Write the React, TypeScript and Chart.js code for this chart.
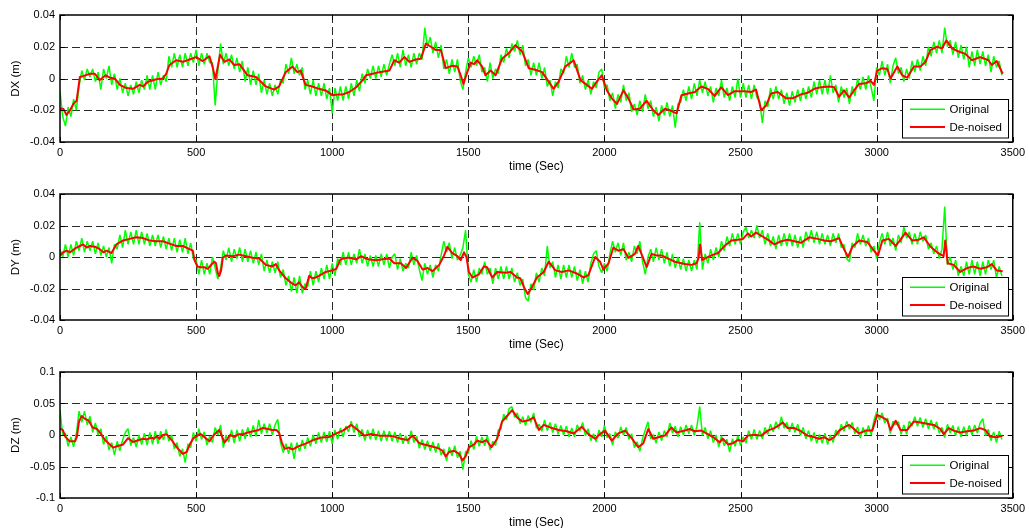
import React, { useEffect, useRef } from "react";
import { Chart, registerables } from "chart.js";

Chart.register(...registerables);

// ---------- data (values in millimetres, plotted in metres) ----------
const X_TICKS = [0, 500, 1000, 1500, 2000, 2500, 3000, 3500];
const DXY_Y_TICKS = [-0.04, -0.02, 0, 0.02, 0.04];
const DZ_Y_TICKS = [-0.1, -0.05, 0, 0.05, 0.1];
const ORIGINAL_STEP_SEC = 10; // original samples read every 10 s, starting at t = 0
const SERIES_NAMES = ["Original", "De-noised"];
const X_TITLE = "time (Sec)";

const DX_ORIGINAL_MM = [
  -8, -24, -30, -18, -24, -13, -20, -5, 5, -1,
  6, 1, 6, -2, 4, -7, 6, 0, 8, -4,
  3, -7, 0, -9, -3, -11, -4, -10, -2, -9,
  -1, -7, 2, -7, 2, -7, 4, -4, 2, -2,
  14, 7, 16, 7, 15, 7, 16, 8, 16, 10,
  18, 8, 16, 9, 16, 10, 10, -17, 5, 22,
  9, 16, 8, 15, 6, 13, 4, 11, -2, 7,
  -4, 5, -4, 3, -9, -1, -10, -3, -11, -4,
  -10, -1, -3, 9, 3, 13, 3, 9, 2, 7,
  -7, -1, -10, -1, -11, -3, -11, -3, -13, -6,
  -22, -6, -14, -5, -14, -5, -13, -3, -11, -1,
  -8, 3, -3, 6, 0, 8, 0, 8, 1, 9,
  2, 9, 15, 8, 16, 7, 18, 8, 15, 7,
  16, 9, 16, 12, 32, 20, 26, 16, 23, 13,
  21, 6, 12, 3, 12, 4, 12, -1, -7, 4,
  13, 7, 14, 8, 15, 4, 7, -2, 10, 0,
  6, 3, 15, 10, 19, 13, 22, 17, 24, 15,
  21, 8, 12, 2, 10, 2, 10, 0, 7, -5,
  -1, -11, -2, -6, 6, 3, 14, 7, 16, 7,
  9, -3, 2, -7, -1, -10, -2, -6, 4, 6,
  -6, -4, -14, -9, -19, -10, -15, -4, -14, -9,
  -21, -16, -23, -14, -21, -10, -19, -14, -24, -18,
  -27, -17, -23, -15, -24, -17, -31, -16, -15, -7,
  -14, -5, -13, -3, -11, -1, -9, -2, -11, -5,
  -15, -6, -11, -1, -12, -6, -14, -5, -12, 0,
  -12, -3, -12, -4, -13, -4, -12, -14, -28, -14,
  -18, -6, -13, -5, -13, -7, -16, -9, -17, -8,
  -15, -7, -14, -6, -13, -5, -12, -2, -10, -1,
  -10, -1, -10, 2, -9, -4, -15, -5, -12, -6,
  -16, -5, -11, 0, -7, 1, -7, 2, -6, -14,
  7, 2, 11, 2, 9, -3, 8, 13, 3, 7,
  -2, 6, 0, 11, 4, 12, 5, 14, 8, 20,
  14, 23, 16, 24, 16, 32, 20, 24, 15, 23,
  13, 21, 12, 20, 7, 17, 8, 18, 9, 17,
  8, 15, 4, 14, 7, 11, 2,
];

const DX_DENOISED_MM: [number, number][] = [
  [0, -19], [12, -19], [24, -23], [37, -20], [49, -16], [61, -14], [73, 1], [85, 1.5], [110, 3], [128, 3],
  [146, -1], [168, 2], [183, 0.5], [201, 0], [220, -4], [244, -6], [268, -6.5], [293, -4], [305, -5], [323, -2],
  [354, -0.5], [378, 0], [390, 3], [402, 8.5], [427, 11.5], [451, 10.5], [476, 12], [500, 13.5], [524, 11], [549, 14],
  [561, 7], [571, -0.5], [579, 7], [588, 15], [604, 10.5], [622, 12], [640, 8.5], [659, 9], [689, 2], [720, 1],
  [756, -5], [787, -7], [805, -5], [829, 4], [854, 7.5], [872, 4], [884, 5], [902, -4], [927, -5], [951, -6.5],
  [976, -7.5], [1000, -10.5], [1024, -10], [1039, -10], [1063, -8.5], [1088, -5.5], [1112, -1], [1124, 2], [1149, 3], [1173, 4],
  [1210, 5], [1228, 11.5], [1246, 10], [1265, 13.5], [1283, 10.5], [1307, 12], [1326, 12.5], [1344, 22], [1362, 20], [1380, 18],
  [1399, 18], [1417, 6.5], [1441, 8], [1460, 7.5], [1472, 2], [1482, -3.5], [1496, 4], [1509, 10], [1521, 9], [1533, 11.5],
  [1551, 7.5], [1563, 2], [1582, 5], [1600, 2], [1624, 12.5], [1649, 16], [1673, 21], [1698, 17], [1722, 6.5], [1746, 5.5],
  [1771, 4], [1795, -2], [1813, -6.5], [1832, -2], [1856, 7.5], [1887, 11.5], [1912, -1], [1935, -4], [1954, -6.5], [1972, -2],
  [1990, 2], [2009, -7.5], [2027, -12.5], [2046, -16], [2070, -7.5], [2088, -12.5], [2107, -19.5], [2130, -19], [2155, -14], [2179, -20],
  [2198, -23], [2222, -19], [2240, -20], [2265, -22], [2283, -10.5], [2307, -9.5], [2332, -8.5], [2356, -5], [2380, -6.5], [2405, -11],
  [2429, -5.5], [2454, -10.5], [2478, -8], [2515, -8], [2539, -8.5], [2557, -7], [2576, -20], [2594, -17], [2612, -9.5], [2637, -8.5],
  [2667, -12.5], [2691, -12.5], [2722, -10], [2746, -9], [2771, -6.5], [2795, -5.5], [2826, -5], [2844, -5.5], [2862, -11.5], [2880, -7.5],
  [2899, -12], [2917, -7.5], [2935, -3.5], [2960, -3], [2978, -1.5], [2990, -4], [3002, 5], [3021, 6.5], [3039, 6], [3051, 0],
  [3076, 7.5], [3094, 2], [3112, 0.5], [3137, 7.5], [3161, 7.5], [3179, 10.5], [3198, 18], [3222, 20], [3240, 19], [3256, 24],
  [3277, 19], [3301, 17], [3326, 15.5], [3350, 11.5], [3380, 13.5], [3411, 11.5], [3423, 8.5], [3441, 11], [3463, 3],
];

const DY_ORIGINAL_MM = [
  5, 0, 8, 0, 8, 1, 10, 4, 12, 3,
  10, 4, 10, 2, 9, 1, 7, 0, 6, -4,
  8, 5, 14, 6, 17, 8, 16, 8, 17, 8,
  16, 8, 15, 7, 14, 7, 14, 6, 13, 5,
  12, 4, 12, 3, 11, 3, 12, 2, 9, -1,
  -2, -11, -2, -11, -4, -11, 0, -7, -14, -7,
  4, -2, 6, -3, 5, -1, 6, -3, 5, -3,
  4, -4, 3, -5, 2, -9, -2, -10, -3, -10,
  -3, -13, -8, -18, -12, -22, -13, -23, -12, -23,
  -17, -19, -9, -18, -9, -16, -7, -14, -5, -14,
  -4, -12, -1, -5, 3, -5, 3, -5, 2, -4,
  5, -4, 2, -6, 1, -6, 1, -6, 2, -5,
  2, -7, 0, 2, -8, -1, -9, -4, -7, 3,
  -5, 1, -8, -15, -4, -11, -5, -13, -5, -9,
  1, 10, 3, 9, -1, 6, -2, 1, 6, 17,
  -11, -16, -8, -16, -7, -11, -3, -11, -7, -17,
  -7, -14, -6, -14, -6, -14, -7, -16, -10, -18,
  -14, -26, -28, -17, -21, -10, -16, -7, -12, 7,
  -7, -3, -13, -5, -14, -5, -13, -5, -13, -6,
  -15, -8, -17, -9, -16, -4, 2, 4, -6, -10,
  -4, -9, 2, 10, 3, 9, 1, 9, -2, 3,
  -3, 7, 2, 10, -3, -11, 0, 5, -3, 6,
  -2, 5, -4, 3, -6, 2, -7, 0, -8, -1,
  -9, -2, -9, -2, -8, 22, -8, 2, -4, 5,
  -2, 6, 0, 10, 4, 13, 7, 15, 8, 15,
  8, 16, 19, 12, 17, 12, 20, 12, 17, 8,
  15, 7, 13, 5, 14, 7, 15, 7, 15, 7,
  14, 6, 13, 6, 16, 10, 17, 9, 16, 8,
  15, 8, 14, 7, 15, 9, 15, 6, 8, -1,
  -3, 9, 6, 15, 8, 14, 7, 12, 3, 7,
  -1, 9, 15, 8, 16, 7, 12, 4, 14, 9,
  19, 12, 16, 8, 15, 8, 16, 10, 14, 5,
  9, 2, 7, -1, 5, 32, -5, 0, -8, -2,
  -12, -6, -12, -3, -11, -2, -11, -3, -12, -3,
  -11, -2, -8, -2, -13, -6, -12,
];

const DY_DENOISED_MM: [number, number][] = [
  [0, 1], [12, 3], [24, 4], [37, 3], [49, 4.5], [61, 6], [73, 7], [85, 8], [98, 6], [110, 7],
  [128, 6.5], [146, 5], [159, 3], [171, 4], [189, 2.5], [207, 8], [232, 10.5], [256, 11.5], [280, 12.5], [305, 12],
  [329, 10.5], [354, 10], [378, 10], [402, 8.5], [427, 7], [451, 7], [476, 5], [488, 4], [494, -2], [505, -6],
  [517, -6.5], [530, -6.5], [543, -7.5], [555, -5], [567, -3], [573, -4], [580, -10.5], [585, -12], [592, -8.5], [598, -0.5],
  [610, 1], [634, 0.5], [659, 1.5], [683, 0.5], [707, -0.5], [732, -1], [756, -5], [780, -6], [793, -4.5], [805, -8.5],
  [829, -13.5], [854, -17], [866, -18], [878, -16], [890, -19], [902, -20.5], [915, -12], [927, -13.5], [939, -13], [951, -12],
  [976, -9.5], [1000, -8.5], [1015, -7.5], [1030, -1.5], [1055, -0.5], [1063, -0.5], [1088, -1.5], [1106, 0.5], [1130, -1.5], [1161, -2],
  [1185, -1.5], [1210, -1], [1228, -4], [1252, -4], [1271, -7], [1295, -0.5], [1313, -2.5], [1332, -8], [1350, -7], [1368, -9],
  [1393, -5], [1411, 1], [1423, 6.5], [1441, 2.5], [1460, 0.5], [1472, -2], [1484, 3], [1493, 0], [1502, -9.5], [1515, -13],
  [1539, -11], [1557, -6], [1569, -6.5], [1588, -13], [1606, -9.5], [1637, -10], [1655, -9.5], [1679, -13], [1691, -13.5], [1704, -19],
  [1718, -23.5], [1734, -19], [1752, -13], [1777, -9.5], [1795, -3], [1820, -8.5], [1844, -9.5], [1868, -8.5], [1899, -10.5], [1923, -13],
  [1941, -11.5], [1966, 0], [1984, -3], [1996, -8], [2015, -4], [2033, 6], [2051, 4], [2070, 5], [2088, -0.5], [2112, 2],
  [2124, 7], [2143, -1], [2155, -6.5], [2173, 2], [2191, 1], [2210, 1], [2234, -1], [2259, -3], [2283, -4], [2295, -4.5],
  [2320, -5], [2338, -4], [2346, -0.5], [2351, 8], [2359, -2], [2374, -0.5], [2393, 1], [2417, 2.5], [2441, 7], [2466, 10.5],
  [2490, 11], [2509, 11.5], [2527, 15], [2539, 13], [2557, 15.5], [2576, 13.5], [2600, 11], [2624, 8], [2649, 10], [2673, 11],
  [2698, 10], [2722, 9], [2752, 12.5], [2783, 11.5], [2807, 10.5], [2832, 10], [2862, 12], [2880, 5], [2895, 0], [2911, 6.5],
  [2935, 10.5], [2966, 9.5], [2990, 4], [3005, 1], [3021, 10.5], [3045, 11.5], [3070, 7], [3088, 11], [3106, 15.5], [3130, 10.5],
  [3155, 11], [3173, 12.5], [3198, 6.5], [3222, 3], [3246, 0.5], [3252, 10.5], [3261, -4], [3283, -5], [3307, -9.5], [3332, -7],
  [3356, -6], [3380, -7.5], [3405, -6.5], [3423, -4.5], [3441, -8.5], [3463, -9],
];

const DZ_ORIGINAL_MM = [
  40, 0, 3, -18, -3, -19, 2, 38, 20, 38,
  16, 30, 4, 19, 0, 10, -15, -2, -24, -12,
  -32, -10, -25, -8, 4, 10, -17, -4, -19, 0,
  -15, 3, -16, 4, -15, 6, -14, 6, -8, 9,
  -10, 0, -22, -12, -34, -22, -44, -14, -20, 4,
  -10, 10, -7, 5, -16, -2, -12, 12, 0, 16,
  -20, 0, -11, 8, -13, 8, -10, 9, -6, 12,
  -3, 15, -2, 24, 2, 18, 3, 18, 0, 16,
  25, -12, -28, -14, -30, -12, -38, -12, -26, -8,
  -22, -4, -18, 0, -14, 4, -12, 5, -11, 6,
  -14, 8, -7, 11, -3, 14, 5, 22, 4, 18,
  -3, 9, -9, 8, -7, 10, -8, 7, -10, 7,
  -9, 6, -10, 5, -12, 3, -14, -1, -14, 7,
  -12, -2, -21, -7, -23, -9, -25, -11, -28, -13,
  -32, -22, -41, -19, -33, -17, -36, -26, -55, -26,
  -29, -9, -23, -2, -18, -3, -17, -1, -24, -10,
  -17, 8, 10, 33, 24, 42, 45, 28, 35, 18,
  29, 15, 31, 20, 35, 11, 17, 6, 24, 7,
  20, 4, 18, 1, 15, 0, 14, -3, 11, -3,
  16, 6, 20, -1, 10, -9, 2, -11, 8, -3,
  15, -4, 2, -16, 5, -5, 13, 0, 12, -7,
  2, -20, -11, -26, -6, 8, 21, -6, 1, -13,
  5, -9, 7, -3, 19, 3, 14, -3, 13, 0,
  16, 2, 16, -1, 14, 45, -1, 12, -6, 7,
  -12, 0, -19, -1, -17, -7, -27, -6, -18, -1,
  -17, -3, -13, 7, -7, 9, -7, 7, -6, 12,
  1, 17, 5, 21, 10, 29, 11, 20, 5, 19,
  4, 17, -1, 12, -6, 7, -10, 4, -13, 1,
  -13, 3, -15, 0, -12, 8, -1, 17, 6, 22,
  9, 20, 2, 13, -5, 12, 0, 15, 0, 23,
  37, 24, 35, 19, 27, 2, 22, 16, 21, 1,
  16, 1, 22, 14, 29, 14, 28, 12, 26, 10,
  24, 9, 21, 3, 12, -4, 17, 3, 15, -1,
  13, -3, 13, -1, 15, 0, 16, 3, 19, 26,
  -1, 9, -9, 5, -12, 6, -7,
];

const DZ_DENOISED_MM: [number, number][] = [
  [0, 10], [10, 8], [20, -3], [35, -10], [55, -10], [62, -3], [70, 22], [80, 30], [90, 26], [105, 23],
  [120, 12], [135, 10], [150, 2], [165, -8], [180, -14], [195, -20], [215, -17], [232, -15], [250, -5], [268, -11],
  [290, -8], [305, -6], [320, -7], [335, -4], [345, -6], [355, -2], [365, -6], [378, 0], [392, 1], [410, -8],
  [430, -20], [451, -30], [465, -27], [478, -14], [490, -5], [505, -1], [515, 2], [530, -3], [549, -10], [565, 0],
  [585, 8], [595, -2], [604, -12], [615, -6], [625, 0], [640, -3], [655, 1], [670, 1], [690, 4], [710, 6],
  [730, 8], [744, 11], [760, 10], [780, 8], [795, 8], [805, 3], [815, -12], [825, -22], [840, -20], [855, -23],
  [875, -18], [900, -14], [930, -8], [960, -4], [990, -3], [1015, 2.5], [1039, 7], [1070, 16], [1094, 8], [1118, -1],
  [1143, 1.5], [1173, -1], [1204, -1], [1228, -2.5], [1252, -6], [1277, -8], [1295, -1], [1320, -13], [1356, -17], [1387, -20.5],
  [1405, -25], [1417, -34], [1429, -27], [1448, -25], [1466, -30], [1478, -40.5], [1490, -34], [1502, -19.5], [1521, -15], [1533, -9],
  [1551, -11.5], [1566, -8], [1585, -19.5], [1606, -6], [1624, 21.5], [1643, 30.5], [1661, 39.5], [1679, 28], [1698, 21.5], [1722, 23.5],
  [1740, 28], [1759, 8], [1777, 16], [1801, 12], [1832, 8], [1862, 6], [1887, 2.5], [1917, 13], [1941, 1.5], [1966, -6],
  [1984, 1.5], [2002, 7], [2027, -9], [2051, 2.5], [2076, 7], [2100, -5], [2124, -19.5], [2143, -13], [2161, 9.5], [2179, -6],
  [2198, -3.5], [2222, -1], [2246, 12], [2265, 4], [2295, 7], [2313, 9.5], [2332, 6], [2356, 7], [2380, 1.5], [2405, -5],
  [2423, -11.5], [2435, -6], [2454, -15], [2472, -13], [2490, -8], [2509, -10], [2527, -1], [2551, 0.5], [2576, -1], [2600, 7],
  [2624, 11], [2643, 16], [2655, 20], [2673, 11], [2698, 11], [2722, 6], [2746, -1], [2771, -3.5], [2789, -6], [2807, -3.5],
  [2826, -8], [2844, -3.5], [2862, 7], [2880, 12], [2899, 16], [2917, 9.5], [2935, 2.5], [2960, 7], [2984, 7], [3002, 32],
  [3021, 28], [3039, 23.5], [3051, 8], [3070, 22.5], [3088, 8], [3112, 8], [3137, 21.5], [3161, 20], [3185, 18], [3210, 16],
  [3234, 9.5], [3246, 1.5], [3265, 11], [3283, 7], [3307, 4], [3332, 6], [3356, 7], [3380, 11], [3399, 8], [3417, -2.5],
  [3441, -3.5], [3463, -1],
];

// ---------- layout / styling ----------
const FONT = '"Liberation Sans", Arial, Helvetica, sans-serif';
const GREEN = "#00ff00";
const RED = "#ff0000";

const PANELS = [
  { yTitle: "DX (m)", yTicks: DXY_Y_TICKS, original: DX_ORIGINAL_MM, denoised: DX_DENOISED_MM, top: 0, height: 176, padTop: 15 },
  { yTitle: "DY (m)", yTicks: DXY_Y_TICKS, original: DY_ORIGINAL_MM, denoised: DY_DENOISED_MM, top: 176, height: 178, padTop: 18 },
  { yTitle: "DZ (m)", yTicks: DZ_Y_TICKS, original: DZ_ORIGINAL_MM, denoised: DZ_DENOISED_MM, top: 354, height: 178, padTop: 18 },
];

const fmt = (v: number) => {
  const r = parseFloat(Number(v).toFixed(3));
  return r === 0 ? "0" : String(r);
};

const matlabAxes = {
  id: "matlabAxes",
  beforeDatasetsDraw(chart: any, _args: any, opts: any) {
    const { ctx, chartArea: a, scales } = chart;
    ctx.save();
    ctx.strokeStyle = "#2a2a2a";
    ctx.lineWidth = 1;
    ctx.setLineDash([8, 4]);
    for (const v of opts.xTicks.slice(1, -1)) {
      const x = Math.round(scales.x.getPixelForValue(v)) + 0.5;
      ctx.beginPath();
      ctx.moveTo(x, a.top);
      ctx.lineTo(x, a.bottom);
      ctx.stroke();
    }
    for (const v of opts.yTicks.slice(1, -1)) {
      const y = Math.round(scales.y.getPixelForValue(v)) + 0.5;
      ctx.beginPath();
      ctx.moveTo(a.left, y);
      ctx.lineTo(a.right, y);
      ctx.stroke();
    }
    ctx.restore();
  },
  afterDatasetsDraw(chart: any, _args: any, opts: any) {
    const { ctx, chartArea: a, scales } = chart;
    ctx.save();
    ctx.strokeStyle = "#000";
    ctx.lineWidth = 1.5;
    ctx.setLineDash([]);
    ctx.strokeRect(a.left, a.top, a.right - a.left, a.bottom - a.top);
    ctx.lineWidth = 1;
    const tl = 5;
    for (const v of opts.xTicks) {
      const x = Math.round(scales.x.getPixelForValue(v)) + 0.5;
      ctx.beginPath();
      ctx.moveTo(x, a.bottom);
      ctx.lineTo(x, a.bottom - tl);
      ctx.moveTo(x, a.top);
      ctx.lineTo(x, a.top + tl);
      ctx.stroke();
    }
    for (const v of opts.yTicks) {
      const y = Math.round(scales.y.getPixelForValue(v)) + 0.5;
      ctx.beginPath();
      ctx.moveTo(a.left, y);
      ctx.lineTo(a.left + tl, y);
      ctx.moveTo(a.right, y);
      ctx.lineTo(a.right - tl, y);
      ctx.stroke();
    }
    // legend box
    const bw = 106;
    const bh = 38.5;
    const x0 = Math.round(a.right - 4.5 - bw) + 0.5;
    const y0 = Math.round(a.bottom - 5 - bh) + 0.5;
    ctx.fillStyle = "#fff";
    ctx.fillRect(x0, y0, bw, bh);
    ctx.strokeStyle = "#000";
    ctx.lineWidth = 1;
    ctx.strokeRect(x0, y0, bw, bh);
    const rows = [
      { color: GREEN, width: 1.5, dy: 9.7, text: SERIES_NAMES[0] },
      { color: RED, width: 2, dy: 27.4, text: SERIES_NAMES[1] },
    ];
    ctx.font = `11.5px ${FONT}`;
    ctx.textBaseline = "middle";
    ctx.textAlign = "left";
    for (const r of rows) {
      ctx.strokeStyle = r.color;
      ctx.lineWidth = r.width;
      ctx.beginPath();
      ctx.moveTo(x0 + 7.5, y0 + r.dy);
      ctx.lineTo(x0 + 42.5, y0 + r.dy);
      ctx.stroke();
      ctx.fillStyle = "#000";
      ctx.fillText(r.text, x0 + 47, y0 + r.dy + 0.7);
    }
    ctx.restore();
  },
};

export default function App() {
  const refs = [useRef<HTMLCanvasElement>(null), useRef<HTMLCanvasElement>(null), useRef<HTMLCanvasElement>(null)];

  useEffect(() => {
    const charts: Chart[] = [];
    PANELS.forEach((p, idx) => {
      const canvas = refs[idx].current;
      if (!canvas) return;
      const original = p.original.map((v, i) => ({ x: i * ORIGINAL_STEP_SEC, y: v / 1000 }));
      const denoised = p.denoised.map(([t, v]) => ({ x: t, y: v / 1000 }));
      const yTicks = p.yTicks;
      const chart = new Chart(canvas, {
        type: "line",
        data: {
          datasets: [
            {
              label: SERIES_NAMES[0],
              data: original,
              borderColor: GREEN,
              borderWidth: 1.5,
              borderJoinStyle: "bevel",
              pointRadius: 0,
              tension: 0,
              order: 1,
            },
            {
              label: SERIES_NAMES[1],
              data: denoised,
              borderColor: RED,
              borderWidth: 2,
              borderJoinStyle: "round",
              pointRadius: 0,
              tension: 0,
              order: 0,
            },
          ],
        },
        plugins: [matlabAxes as any],
        options: {
          animation: false,
          responsive: false,
          devicePixelRatio: 1,
          parsing: false,
          normalized: true,
          events: [],
          layout: { padding: { top: p.padTop, bottom: 2, left: 0, right: 12 } },
          plugins: {
            legend: { display: false },
            tooltip: { enabled: false },
            matlabAxes: { xTicks: X_TICKS, yTicks },
          } as any,
          scales: {
            x: {
              type: "linear",
              min: X_TICKS[0],
              max: X_TICKS[X_TICKS.length - 1],
              grid: { display: false, drawTicks: false },
              border: { display: false },
              afterBuildTicks: (s: any) => {
                s.ticks = X_TICKS.map((v) => ({ value: v }));
              },
              afterFit: (s: any) => {
                s.height = 32;
              },
              ticks: {
                padding: 4,
                color: "#000",
                font: { family: FONT, size: 11 },
                maxRotation: 0,
                autoSkip: false,
                callback: (v: any) => String(v),
              },
              title: {
                display: true,
                text: X_TITLE,
                color: "#000",
                font: { family: FONT, size: 12 },
                padding: { top: 0, bottom: 0 },
              },
            },
            y: {
              type: "linear",
              min: yTicks[0],
              max: yTicks[yTicks.length - 1],
              grid: { display: false, drawTicks: false },
              border: { display: false },
              afterBuildTicks: (s: any) => {
                s.ticks = yTicks.map((v) => ({ value: v }));
              },
              afterFit: (s: any) => {
                s.width = 60;
              },
              ticks: {
                padding: 5,
                color: "#000",
                font: { family: FONT, size: 11 },
                autoSkip: false,
                callback: (v: any) => fmt(v),
              },
              title: {
                display: true,
                text: p.yTitle,
                color: "#000",
                font: { family: FONT, size: 11.5 },
                padding: { top: 9, bottom: 0 },
              },
            },
          },
        },
      });
      charts.push(chart);
    });
    return () => charts.forEach((c) => c.destroy());
  }, []);

  return (
    <div
      style={{
        position: "fixed",
        left: 0,
        top: 0,
        width: 1029,
        height: 528,
        overflow: "hidden",
        background: "#fff",
      }}
    >
      {PANELS.map((p, i) => (
        <canvas
          key={i}
          ref={refs[i]}
          width={1029}
          height={p.height}
          style={{ position: "absolute", left: 0, top: p.top, width: 1029, height: p.height }}
        />
      ))}
    </div>
  );
}
